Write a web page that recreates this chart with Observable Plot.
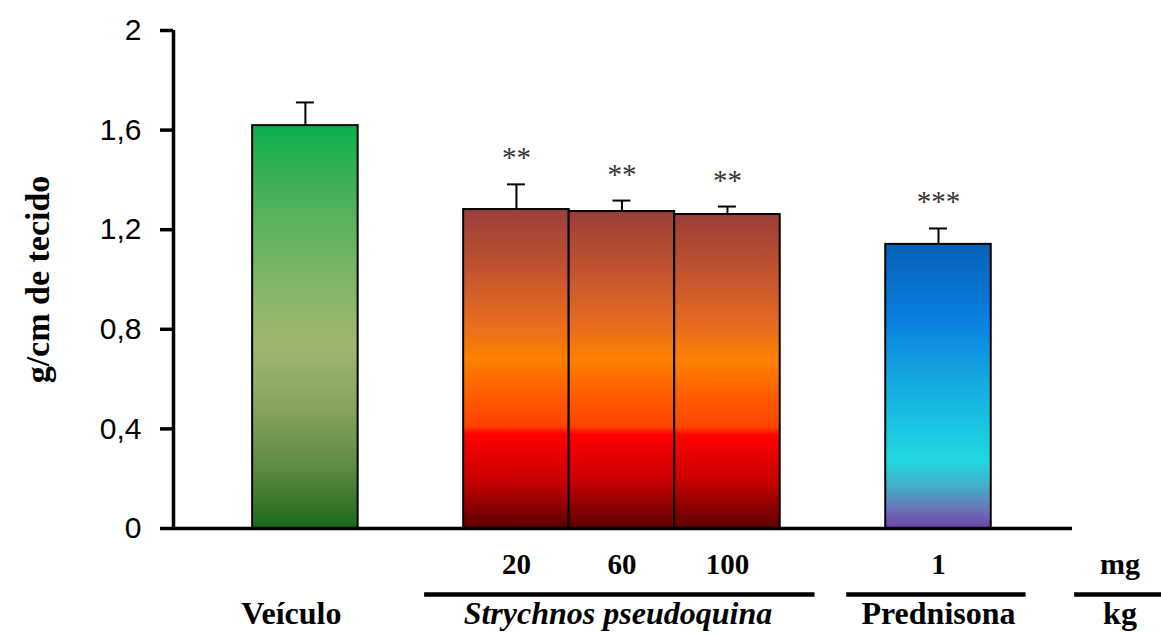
<!DOCTYPE html>
<html>
<head>
<meta charset="utf-8">
<script src="https://cdn.jsdelivr.net/npm/d3@7"></script>
<script src="https://cdn.jsdelivr.net/npm/@observablehq/plot@0.6"></script>
<style>
  body { margin: 0; background: #fff; }
</style>
</head>
<body>
<div id="chart"></div>
<script>
// ---- data ----
const groups = ["Veículo", "Strychnos pseudoquina", "Prednisona"];
const groupOf = ["Veículo", "Strychnos pseudoquina", "Strychnos pseudoquina", "Strychnos pseudoquina", "Prednisona"];
const doses = ["", "20", "60", "100", "1"];
const means = [1.618, 1.281, 1.273, 1.261, 1.141];
const sems = [0.093, 0.101, 0.044, 0.032, 0.064];
const stars = ["", "**", "**", "**", "***"];
const yTicks = [0, 0.4, 0.8, 1.2, 1.6, 2];
const yLabel = "g/cm de tecido";
const unitTop = "mg";
const unitBottom = "kg";
const italicGroups = ["Strychnos pseudoquina"];

// ---- styles ----
const serif = "'Liberation Serif', 'Times New Roman', serif";
const sans = "'Liberation Sans', Arial, sans-serif";
const gradientStops = {
  "Veículo": [
    [0, "#0cb04b"], [0.15, "#40b058"], [0.3, "#6ab463"], [0.45, "#90b66c"],
    [0.55, "#9fb671"], [0.7, "#86a45e"], [0.85, "#5e8a45"], [1, "#1b6a1b"]
  ],
  "Strychnos pseudoquina": [
    [0, "#9a3e3a"], [0.2, "#c4552e"], [0.35, "#e56b20"], [0.47, "#ff8000"],
    [0.57, "#ff6000"], [0.68, "#ff4200"], [0.705, "#ff0000"], [0.85, "#c80000"], [1, "#5c0000"]
  ],
  "Prednisona": [
    [0, "#0560b5"], [0.27, "#0a80e0"], [0.48, "#15a8e0"], [0.64, "#1ac4e0"],
    [0.76, "#22d8e0"], [0.85, "#40b0c8"], [0.93, "#6878b8"], [1, "#7040a8"]
  ]
};
const gradId = g => "grad-" + groups.indexOf(g);

// ---- table: one row per bar, with a blank slot between treatment groups ----
const rows = doses.map((dose, i) => ({
  group: groupOf[i], dose, mean: means[i], sem: sems[i], star: stars[i]
}));
let slot = -1;
rows.forEach((r, i) => {
  slot += (i > 0 && r.group !== rows[i - 1].group) ? 2 : 1;
  r.slot = slot;
});
const groupRows = groups.map(name => {
  const rs = rows.filter(r => r.group === name);
  return {name, lo: d3.min(rs, r => r.slot), hi: d3.max(rs, r => r.slot), dosed: rs.some(r => r.dose)};
});
const unitSlot = d3.max(rows, r => r.slot) + 1.72;
const xDomain = [-1.25, 7.27];

// gradient definitions, one vertical gradient per group
const defsMark = () => {
  const defs = d3.create("svg:defs");
  for (const g of groups) {
    const lg = defs.append("linearGradient").attr("id", gradId(g))
      .attr("x1", 0).attr("y1", 0).attr("x2", 0).attr("y2", 1);
    for (const [o, c] of gradientStops[g]) lg.append("stop").attr("offset", o).attr("stop-color", c);
  }
  return defs.node();
};

const bottomText = {frameAnchor: "bottom", lineAnchor: "bottom", fontFamily: serif, fontWeight: "bold", fill: "#000"};

const chart = Plot.plot({
  width: 1161,
  height: 634,
  marginTop: 30,
  marginLeft: 173,
  marginRight: 89,
  marginBottom: 106,
  style: {fontFamily: sans, background: "#fff", color: "#000"},
  x: {domain: xDomain, axis: null},
  y: {domain: [0, 2], axis: null},
  marks: [
    defsMark,
    // bars, filled with their group gradient
    ...groups.map(g => Plot.rectY(rows.filter(r => r.group === g), {
      x1: r => r.slot - 0.5, x2: r => r.slot + 0.5, y1: 0, y2: "mean",
      fill: `url(#${gradId(g)})`, stroke: "#000", strokeWidth: 2
    })),
    // upper error bars (stem + cap)
    Plot.ruleX(rows, {x: "slot", y1: "mean", y2: r => r.mean + r.sem, stroke: "#000", strokeWidth: 2}),
    Plot.ruleY(rows, {y: r => r.mean + r.sem, x1: r => r.slot - 0.085, x2: r => r.slot + 0.085, stroke: "#000", strokeWidth: 2}),
    // significance markers
    Plot.text(rows.filter(r => r.star), {
      x: "slot", y: r => r.mean + r.sem, text: "star", dy: -17, lineAnchor: "bottom",
      fontFamily: serif, fontSize: 29, fill: "#333"
    }),
    // axes
    Plot.axisY({ticks: yTicks, tickFormat: d => String(d).replace(".", ","), tickSize: 13, tickPadding: 19,
      fontSize: 30, strokeWidth: 3.5, label: null}),
    Plot.ruleX([xDomain[0]], {y1: 0, y2: 2, stroke: "#000", strokeWidth: 3.5}),
    Plot.ruleY([0], {stroke: "#000", strokeWidth: 3.5}),
    Plot.text([yLabel], {frameAnchor: "left", textAnchor: "middle", dx: -135, rotate: -90,
      fontFamily: serif, fontWeight: "bold", fontSize: 34, fill: "#000"}),
    // dose labels and group labels below the axis
    Plot.text(rows.filter(r => r.dose), {x: "slot", text: "dose", dy: 45, fontSize: 29, ...bottomText}),
    Plot.ruleY(groupRows.filter(g => g.dosed), {y: () => 0, x1: g => g.lo - 0.87, x2: g => g.hi + 0.83, dy: 66, stroke: "#000", strokeWidth: 4.5}),
    Plot.text(groupRows.filter(g => !g.dosed), {x: g => (g.lo + g.hi) / 2, text: "name", dx: -14, dy: 95, fontSize: 32, ...bottomText}),
    Plot.text(groupRows.filter(g => g.dosed && !italicGroups.includes(g.name)), {x: g => (g.lo + g.hi) / 2, text: "name", dy: 95, fontSize: 32, ...bottomText}),
    Plot.text(groupRows.filter(g => italicGroups.includes(g.name)), {x: g => (g.lo + g.hi) / 2, text: "name", dx: -4, dy: 95, fontSize: 32, fontStyle: "italic", ...bottomText}),
    // dose unit
    Plot.text([unitTop], {x: () => unitSlot, text: d => d, dy: 45, fontSize: 30, ...bottomText}),
    Plot.ruleY([unitTop], {y: () => 0, x1: () => unitSlot - 0.43, x2: () => unitSlot + 0.43, dy: 66, stroke: "#000", strokeWidth: 4.5}),
    Plot.text([unitBottom], {x: () => unitSlot, text: d => d, dy: 95, fontSize: 32, ...bottomText})
  ]
});

document.getElementById("chart").append(chart);
</script>
</body>
</html>
